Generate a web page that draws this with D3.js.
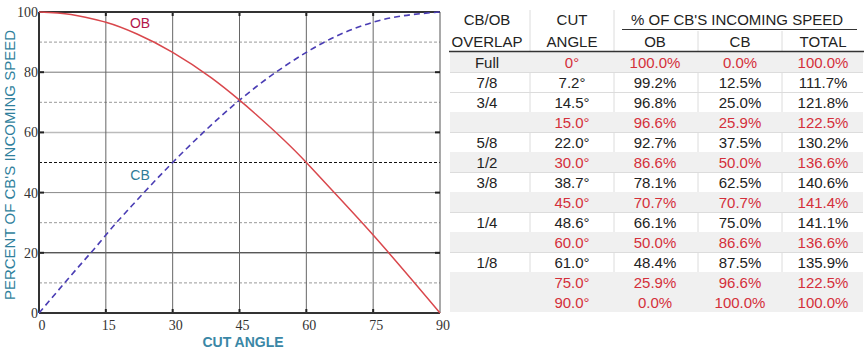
<!DOCTYPE html>
<html><head><meta charset="utf-8">
<script src="https://cdn.jsdelivr.net/npm/d3@7"></script>
<style>body{margin:0;background:#fff}svg{display:block}</style>
</head><body>
<script>
const overlap = ["Full","7/8","3/4","","5/8","1/2","3/8","","1/4","","1/8","",""];
const angles  = [0, 7.2, 14.5, 15.0, 22.0, 30.0, 38.7, 45.0, 48.6, 60.0, 61.0, 75.0, 90.0];
const obPct   = [100.0, 99.2, 96.8, 96.6, 92.7, 86.6, 78.1, 70.7, 66.1, 50.0, 48.4, 25.9, 0.0];
const cbPct   = [0.0, 12.5, 25.0, 25.9, 37.5, 50.0, 62.5, 70.7, 75.0, 86.6, 87.5, 96.6, 100.0];
const totPct  = [100.0, 111.7, 121.8, 122.5, 130.2, 136.6, 140.6, 141.4, 141.1, 136.6, 135.9, 122.5, 100.0];
const highlight = [true,false,false,true,false,true,false,true,false,true,false,true,true];
const xTicks = [0, 15, 30, 45, 60, 75, 90];
const yTicks = [0, 20, 40, 60, 80, 100];
const yMinor = [10, 30, 50, 70, 90];

const W = 867, H = 353;
const svg = d3.select("body").append("svg").attr("width", W).attr("height", H);

const x = d3.scaleLinear().domain([0, 90]).range([39, 440]);
const y = d3.scaleLinear().domain([0, 100]).range([313, 12]);

const g = svg.append("g");
// horizontal dashed minor grid
const minorColor = v => v === 50 ? "#111" : "#999";
g.selectAll(".minor").data(yMinor).join("line")
  .attr("x1", x(0)).attr("x2", x(90)).attr("y1", d => y(d)).attr("y2", d => y(d))
  .attr("stroke", minorColor).attr("stroke-width", 1).attr("stroke-dasharray", "3,2");
// horizontal solid grid
const majorColor = {20: "#111", 40: "#888", 60: "#bbb", 80: "#777"};
g.selectAll(".major").data(yTicks.filter(v => v > 0 && v < 100)).join("line")
  .attr("x1", x(0)).attr("x2", x(90)).attr("y1", d => y(d)).attr("y2", d => y(d))
  .attr("stroke", d => majorColor[d]).attr("stroke-width", d => d === 60 ? 1.5 : 1);
// vertical grid
g.selectAll(".vgrid").data(xTicks.filter(v => v > 0 && v < 90)).join("line")
  .attr("x1", d => x(d)).attr("x2", d => x(d)).attr("y1", y(0)).attr("y2", y(100))
  .attr("stroke", "#666").attr("stroke-width", 1);
// right border
g.append("line").attr("x1", x(90)).attr("x2", x(90)).attr("y1", y(0)).attr("y2", y(100))
  .attr("stroke", "#555").attr("stroke-width", 1);
// ticks on top and bottom
g.selectAll(".tt").data(xTicks.filter(v => v > 0 && v < 90)).join("line")
  .attr("x1", d => x(d)).attr("x2", d => x(d)).attr("y1", y(100)).attr("y2", y(100) + 4)
  .attr("stroke", "#222").attr("stroke-width", 2);
g.selectAll(".bt").data(xTicks.filter(v => v > 0 && v < 90)).join("line")
  .attr("x1", d => x(d)).attr("x2", d => x(d)).attr("y1", y(0)).attr("y2", y(0) - 4)
  .attr("stroke", "#222").attr("stroke-width", 2);
// ticks left and right
g.selectAll(".lt").data(yTicks.filter(v => v > 0 && v < 100)).join("line")
  .attr("x1", x(0)).attr("x2", x(0) + 5).attr("y1", d => y(d)).attr("y2", d => y(d))
  .attr("stroke", "#222").attr("stroke-width", 2);
g.selectAll(".rt").data(yTicks.filter(v => v > 0 && v < 100)).join("line")
  .attr("x1", x(90)).attr("x2", x(90) - 5).attr("y1", d => y(d)).attr("y2", d => y(d))
  .attr("stroke", "#222").attr("stroke-width", 2);
// frame: top, left, bottom
g.append("line").attr("x1", x(0)).attr("x2", x(90)).attr("y1", y(100)).attr("y2", y(100)).attr("stroke", "#333").attr("stroke-width", 2);
g.append("line").attr("x1", x(0)).attr("x2", x(90)).attr("y1", y(0)).attr("y2", y(0)).attr("stroke", "#333").attr("stroke-width", 2);
g.append("line").attr("x1", x(0)).attr("x2", x(0)).attr("y1", y(0)).attr("y2", y(100)).attr("stroke", "#333").attr("stroke-width", 2);

// tick labels
g.selectAll(".yl").data(yTicks).join("text")
  .attr("x", x(0) - 1).attr("y", d => y(d) + 5).attr("text-anchor", "end")
  .attr("font-family", "Liberation Serif, serif").attr("font-size", 14).attr("fill", "#333")
  .text(d => d);
g.selectAll(".xl").data(xTicks).join("text")
  .attr("x", d => x(d) + 3).attr("y", y(0) + 17).attr("text-anchor", "middle")
  .attr("font-family", "Liberation Serif, serif").attr("font-size", 14).attr("fill", "#333")
  .text(d => d);

// curves
const pts = (vals) => angles.map((a, i) => [a, vals[i]]);
const line = d3.line().x(d => x(d[0])).y(d => y(d[1])).curve(d3.curveMonotoneX);
g.append("path").attr("d", line(pts(cbPct))).attr("fill", "none")
  .attr("stroke", "#4a3db4").attr("stroke-width", 1.6).attr("stroke-dasharray", "6,4");
g.append("path").attr("d", line(pts(obPct))).attr("fill", "none")
  .attr("stroke", "#d9474c").attr("stroke-width", 1.5);

// series labels
g.append("text").attr("x", 140).attr("y", 28).attr("text-anchor", "middle")
  .attr("font-family", "Liberation Sans, Arial, sans-serif").attr("font-size", 14).attr("fill", "#b3164b").text("OB");
g.append("text").attr("x", 140).attr("y", 180).attr("text-anchor", "middle")
  .attr("font-family", "Liberation Sans, Arial, sans-serif").attr("font-size", 14).attr("fill", "#2f7c98").text("CB");

// axis titles
svg.append("text").attr("transform", "translate(15,165) rotate(-90)").attr("text-anchor", "middle")
  .attr("font-family", "Liberation Sans, Arial, sans-serif").attr("font-size", 15).attr("fill", "#2f7f9c")
  .text("PERCENT OF CB'S INCOMING SPEED");
svg.append("text").attr("x", 243).attr("y", 347).attr("text-anchor", "middle")
  .attr("font-family", "Liberation Sans, Arial, sans-serif").attr("font-size", 14).attr("font-weight", "bold")
  .attr("fill", "#3a87a6").text("CUT ANGLE");

// ---- table ----
const t = svg.append("g").attr("font-family", "Liberation Sans, Arial, sans-serif").attr("font-size", 15);
const colX = [487, 572, 655, 740, 823];
const sepX = [530, 614, 698, 782];
const tL = 450, tR = 863, rowTop = 52, rowH = 20;
const red = "#d42f3a", black = "#222";

// row backgrounds
t.selectAll(".bg").data(highlight.map((h, i) => ({h, i})).filter(d => d.h)).join("rect")
  .attr("x", tL).attr("width", tR - tL).attr("y", d => rowTop + d.i * rowH).attr("height", rowH)
  .attr("fill", "#f0f0f0");
// separators in white rows
const whiteRows = highlight.map((h, i) => ({h, i})).filter(d => !d.h);
whiteRows.forEach(d => {
  t.append("line").attr("x1", tL).attr("x2", tR).attr("y1", rowTop + d.i * rowH + 0.5).attr("y2", rowTop + d.i * rowH + 0.5)
    .attr("stroke", "#dcdcdc").attr("stroke-width", 1);
  sepX.forEach(sx => t.append("line").attr("x1", sx).attr("x2", sx)
    .attr("y1", rowTop + d.i * rowH).attr("y2", rowTop + (d.i + 1) * rowH).attr("stroke", "#dcdcdc"));
});
// header separators
[530, 614].forEach(sx => t.append("line").attr("x1", sx).attr("x2", sx).attr("y1", 10).attr("y2", rowTop).attr("stroke", "#dcdcdc"));
[698, 782].forEach(sx => t.append("line").attr("x1", sx).attr("x2", sx).attr("y1", 31).attr("y2", rowTop).attr("stroke", "#dcdcdc"));
t.append("line").attr("x1", 622).attr("x2", 857).attr("y1", 29.5).attr("y2", 29.5).attr("stroke", "#333").attr("stroke-width", 1);
t.append("line").attr("x1", 449).attr("x2", 864).attr("y1", 51.5).attr("y2", 51.5).attr("stroke", "#333").attr("stroke-width", 1.5);

// header text
const hdr1 = [["CB/OB", 487], ["CUT", 572], ["% OF CB'S INCOMING SPEED", 737]];
const hdr2 = [["OVERLAP", 487], ["ANGLE", 572], ["OB", 655], ["CB", 740], ["TOTAL", 823]];
t.selectAll(".h1").data(hdr1).join("text").attr("x", d => d[1]).attr("y", 25).attr("text-anchor", "middle").attr("fill", black).text(d => d[0]);
t.selectAll(".h2").data(hdr2).join("text").attr("x", d => d[1]).attr("y", 47).attr("text-anchor", "middle").attr("fill", black).text(d => d[0]);

// body text
const fmtA = v => (v === 0 ? "0" : v.toFixed(1)) + "\u00B0";
const fmtP = v => v.toFixed(1) + "%";
const rows = angles.map((a, i) => [overlap[i], fmtA(a), fmtP(obPct[i]), fmtP(cbPct[i]), fmtP(totPct[i])]);
rows.forEach((r, i) => {
  r.forEach((txt, j) => {
    t.append("text").attr("x", colX[j]).attr("y", rowTop + i * rowH + 15.5).attr("text-anchor", "middle")
      .attr("fill", j === 0 ? black : (highlight[i] ? red : black)).text(txt);
  });
});
</script>
</body></html>
